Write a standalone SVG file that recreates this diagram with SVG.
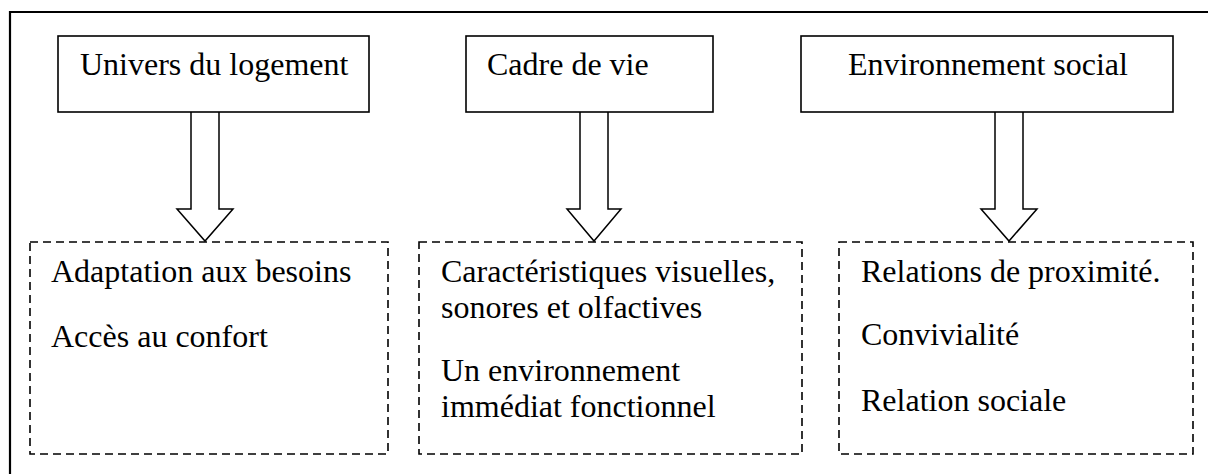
<svg xmlns="http://www.w3.org/2000/svg" width="1208" height="474" viewBox="0 0 1208 474">
<style>
.t{font-family:'Liberation Serif','DejaVu Serif',serif;font-size:32px;fill:#000}
.box{fill:#fff;stroke:#000;stroke-width:1.6}
.dbox{fill:none;stroke:#000;stroke-width:1.6;stroke-dasharray:8 5}
.arr{fill:#fff;stroke:#000;stroke-width:1.5;stroke-linejoin:miter}
</style>
<rect width="1208" height="474" fill="#fff"/>
<path d="M10,474 V12 H1208" fill="none" stroke="#000" stroke-width="2.2"/>
<g id="connectors">
<path class="arr" d="M191,112 V209 H177 L205,241 L233,209 H219 V112"/>
<path class="arr" d="M580,112 V209 H567 L594,241 L621,209 H608 V112"/>
<path class="arr" d="M995,112 V209 H981 L1009,241 L1037,209 H1023 V112"/>
</g>
<g id="node-univers">
<rect class="box" x="58" y="36" width="311" height="76"/>
<text class="t" font-family="Liberation Serif, serif" x="80" y="75">Univers du logement</text>
</g>
<g id="node-cadre">
<rect class="box" x="466" y="36" width="247" height="76"/>
<text class="t" font-family="Liberation Serif, serif" x="487" y="75">Cadre de vie</text>
</g>
<g id="node-environnement">
<rect class="box" x="801" y="36" width="372" height="76"/>
<text class="t" font-family="Liberation Serif, serif" x="848" y="75">Environnement social</text>
</g>
<g id="node-logement-details">
<rect class="dbox" x="30" y="242" width="358" height="212"/>
<text class="t" x="51" y="282">Adaptation aux besoins</text>
<text class="t" x="51" y="347">Accès au confort</text>
</g>
<g id="node-cadre-details">
<rect class="dbox" x="419" y="242" width="383" height="212"/>
<text class="t" x="441" y="282">Caractéristiques visuelles,</text>
<text class="t" x="441" y="318">sonores et olfactives</text>
<text class="t" x="441" y="381">Un environnement</text>
<text class="t" x="441" y="417">immédiat fonctionnel</text>
</g>
<g id="node-social-details">
<rect class="dbox" x="839" y="242" width="354" height="212"/>
<text class="t" x="861" y="282">Relations de proximité.</text>
<text class="t" x="861" y="345">Convivialité</text>
<text class="t" x="861" y="411">Relation sociale</text>
</g>
</svg>
